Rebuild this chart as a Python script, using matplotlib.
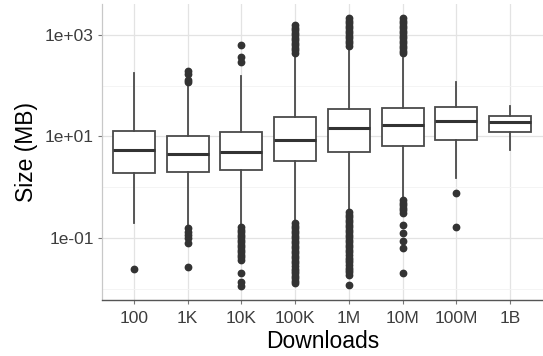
import matplotlib
matplotlib.use('Agg')
import matplotlib.pyplot as plt
from matplotlib.ticker import FixedLocator, NullFormatter

# download buckets and box summary (MB)
categories = ['100', '1K', '10K', '100K', '1M', '10M', '100M', '1B']
q1 = [1.94, 2.0, 2.19, 3.3, 4.95, 6.5, 8.5, 12.3]
medians = [5.4, 4.5, 4.95, 8.5, 14.7, 16.9, 20.2, 19.3]
q3 = [12.6, 10.2, 12.3, 24.2, 34.8, 36.5, 38.0, 25.4]
whisker_lo = [0.20, 0.165, 0.18, 0.198, 0.34, 0.56, 1.52, 5.4]
whisker_hi = [181, 113, 156, 404, 555, 352, 119, 40]

# outlying apps per bucket
outliers = [
    [0.0245],
    [195, 170, 130, 119, 0.157, 0.131, 0.115, 0.10, 0.080, 0.027],
    [635, 369, 294,
     0.165, 0.147, 0.131, 0.117, 0.105, 0.093, 0.083, 0.074, 0.066,
     0.059, 0.053, 0.047, 0.042, 0.0375, 0.0204, 0.0135, 0.0115],
    [1570, 1400, 1250, 1115, 995, 890, 795, 710, 633, 565, 505, 450,
     0.195, 0.174, 0.155, 0.139, 0.124, 0.110, 0.099, 0.088, 0.079,
     0.070, 0.063, 0.056, 0.050, 0.045, 0.040, 0.036, 0.032, 0.028,
     0.025, 0.0226, 0.020, 0.018, 0.016, 0.0143, 0.0128],
    [2160, 1930, 1720, 1535, 1370, 1225, 1090, 975, 870, 777, 694, 620,
     0.32, 0.286, 0.255, 0.228, 0.203, 0.181, 0.162, 0.145, 0.129,
     0.115, 0.103, 0.092, 0.082, 0.073, 0.065, 0.058, 0.052, 0.046,
     0.041, 0.037, 0.033, 0.0295, 0.026, 0.0235, 0.021, 0.0187, 0.0119],
    [2160, 1930, 1720, 1535, 1370, 1225, 1090, 975, 870, 777, 694, 620,
     553, 494, 442,
     0.55, 0.49, 0.44, 0.39, 0.35, 0.31, 0.18, 0.126, 0.087, 0.064, 0.0204],
    [0.77, 0.165],
    [],
]

y_ticks = [1e-1, 1e1, 1e3]
y_tick_labels = ['1e-01', '1e+01', '1e+03']
y_minor = [1e-2, 1e0, 1e2]

plt.rcParams['font.family'] = ['Liberation Sans', 'DejaVu Sans']

stats = []
for i, name in enumerate(categories):
    stats.append(dict(label=name, q1=q1[i], med=medians[i], q3=q3[i],
                      whislo=whisker_lo[i], whishi=whisker_hi[i],
                      fliers=outliers[i]))

fig = plt.figure(figsize=(5.43, 3.56), dpi=100)
ax = fig.add_axes([0.1878, 0.1573, 0.8122, 0.8315])

line_col = '#4a4a4a'
ax.bxp(
    stats,
    positions=range(1, len(categories) + 1),
    widths=0.78,
    patch_artist=True,
    boxprops=dict(facecolor='white', edgecolor=line_col, linewidth=1.3),
    medianprops=dict(color='#333333', linewidth=2.2),
    whiskerprops=dict(color=line_col, linewidth=1.3),
    capprops=dict(linewidth=0),
    flierprops=dict(marker='o', markersize=4.6, markerfacecolor='#333333',
                    markeredgecolor='#333333', linestyle='none'),
    zorder=3,
)

ax.set_yscale('log')
ax.set_ylim(0.006, 4083)
ax.set_xlim(0.406, 8.61)

ax.yaxis.set_major_locator(FixedLocator(y_ticks))
ax.set_yticklabels(y_tick_labels)
ax.yaxis.set_minor_locator(FixedLocator(y_minor))
ax.yaxis.set_minor_formatter(NullFormatter())
ax.tick_params(axis='y', which='minor', length=0)
ax.set_xticks(range(1, len(categories) + 1))
ax.set_xticklabels(categories)

# light ggplot-style grid
ax.grid(which='major', color='#e3e3e3', linewidth=0.9, zorder=0)
ax.grid(which='minor', axis='y', color='#f2f2f2', linewidth=0.6, zorder=0)
ax.set_axisbelow(True)

ax.tick_params(axis='both', which='major', length=3, width=0.8,
               color='#777777', labelsize=12.5, labelcolor='#3d3d3d')
ax.tick_params(axis='x', pad=5)
ax.tick_params(axis='y', pad=3)

for side in ['top', 'right']:
    ax.spines[side].set_visible(False)
ax.spines['left'].set_color('#c8c8c8')
ax.spines['bottom'].set_color('#555555')
ax.spines['left'].set_linewidth(0.9)
ax.spines['bottom'].set_linewidth(1.0)

ax.set_xlabel('Downloads', fontsize=16.5, color='black', labelpad=3)
ax.set_ylabel('Size (MB)', fontsize=16.5, color='black', labelpad=5)

fig.savefig('out.png', dpi=100)
plt.close(fig)
